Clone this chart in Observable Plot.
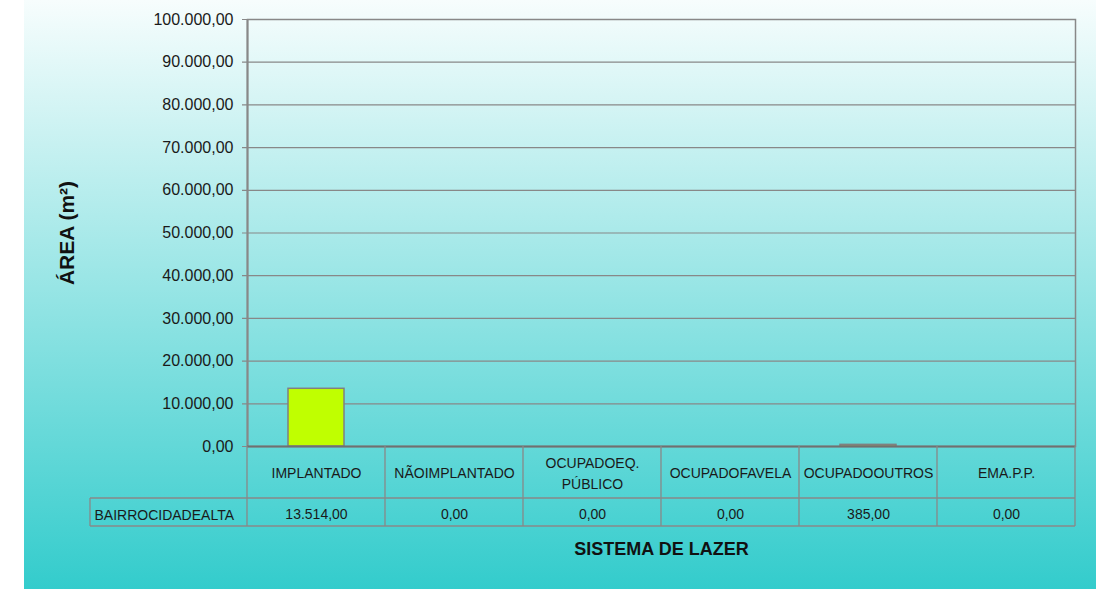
<!DOCTYPE html>
<html>
<head>
<meta charset="utf-8">
<script src="https://cdn.jsdelivr.net/npm/d3@7"></script>
<script src="https://cdn.jsdelivr.net/npm/@observablehq/plot@0.6"></script>
<style>
  html, body { margin: 0; padding: 0; background: #fff; }
  #chart svg { display: block; }
</style>
</head>
<body>
<div id="chart"></div>
<script>
// ---- data ----
const categories = ["IMPLANTADO", "NÃO IMPLANTADO", "OCUPADO EQ. PÚBLICO", "OCUPADO FAVELA", "OCUPADO OUTROS", "EM A.P.P."];
const categoryLabels = ["IMPLANTADO", "NÃOIMPLANTADO", "OCUPADOEQ.\nPÚBLICO", "OCUPADOFAVELA", "OCUPADOOUTROS", "EMA.P.P."];
const values = [13514, 0, 0, 0, 385, 0];
const seriesName = "BAIRROCIDADEALTA";
const yTicks = [0, 10000, 20000, 30000, 40000, 50000, 60000, 70000, 80000, 90000, 100000];
const xTitle = "SISTEMA DE LAZER";
const yTitle = "ÁREA (m²)";

const data = categories.map((c, i) => ({cat: c, label: categoryLabels[i], value: values[i]}));
const ptbr = d3.formatLocale({decimal: ",", thousands: ".", grouping: [3], currency: ["", ""]});
const fmt = ptbr.format(",.2f");

const FONT = "'Liberation Sans', Arial, sans-serif";
const GRID = "#888888";

// table lines drawn from the x band scale
function tableLines(...args) {
  const scales = args.find(a => a && typeof a.x === "function");
  const dims = args.find(a => a && a.marginLeft !== undefined);
  const x = scales.x;
  const bw = x.bandwidth ? x.bandwidth() : (dims.width - dims.marginLeft - dims.marginRight) / categories.length;
  const y0 = dims.height - dims.marginBottom;
  const r1 = y0 + 52, r2 = y0 + 80;
  const left = dims.marginLeft, right = dims.width - dims.marginRight;
  const labelLeft = left - 157;
  const g = d3.create("svg:g").attr("stroke", GRID).attr("stroke-width", 1.3).attr("fill", "none");
  const edges = categories.map(c => x(c)).concat([x(categories[categories.length - 1]) + bw]);
  for (const e of edges) g.append("line").attr("x1", e).attr("x2", e).attr("y1", y0).attr("y2", r2);
  g.append("line").attr("x1", labelLeft).attr("x2", right).attr("y1", r1).attr("y2", r1);
  g.append("line").attr("x1", labelLeft).attr("x2", right).attr("y1", r2).attr("y2", r2);
  g.append("line").attr("x1", labelLeft).attr("x2", labelLeft).attr("y1", r1).attr("y2", r2);
  return g.node();
}

const chart = Plot.plot({
  width: 1096,
  height: 589,
  marginLeft: 247,
  marginRight: 21,
  marginTop: 19,
  marginBottom: 143,
  style: {
    fontFamily: FONT,
    fontSize: "16px",
    color: "#1a1a1a",
    background: "linear-gradient(to bottom, #f7fdfd 0%, #33cccc 100%) 24px 0 / 1072px 589px no-repeat, #ffffff",
    overflow: "visible"
  },
  x: {domain: categories, padding: 0, axis: null},
  y: {domain: [0, 100000], ticks: yTicks, tickFormat: fmt, tickSize: 0, tickPadding: 14, label: null},
  marks: [
    Plot.ruleY(yTicks, {y: d => d, stroke: GRID, strokeWidth: 1.2, insetLeft: -5}),
    Plot.frame({stroke: GRID, strokeWidth: 1.5}),
    Plot.ruleX([categories[0]], {stroke: GRID, strokeWidth: 2, dx: -69}),
    Plot.barY(data, {x: "cat", y: "value", fill: "#C0FF00", stroke: "#808080", strokeWidth: 1.5, insetLeft: 41, insetRight: 41}),
    Plot.ruleY([0], {stroke: "#707070", strokeWidth: 2}),
    tableLines,
    Plot.text(data, {x: "cat", text: "label", frameAnchor: "bottom", lineAnchor: "middle", dy: 25, fontSize: 14, lineHeight: 1.5, fill: "#1a1a1a"}),
    Plot.text(data, {x: "cat", text: d => fmt(d.value), frameAnchor: "bottom", lineAnchor: "middle", dy: 68, fontSize: 14, fill: "#1a1a1a"}),
    Plot.text([seriesName], {text: d => d, frameAnchor: "bottom-left", lineAnchor: "middle", dx: -153, dy: 69, textAnchor: "start", fontSize: 14, fill: "#1a1a1a"}),
    Plot.text([xTitle], {text: d => d, frameAnchor: "bottom", lineAnchor: "middle", dy: 103, fontSize: 18, fontWeight: "bold", fill: "#111"}),
    Plot.text([yTitle], {text: d => d, frameAnchor: "left", textAnchor: "middle", lineAnchor: "middle", dx: -180, rotate: -90, fontSize: 21, fontWeight: "bold", fill: "#111"})
  ]
});
document.getElementById("chart").append(chart);
</script>
</body>
</html>
